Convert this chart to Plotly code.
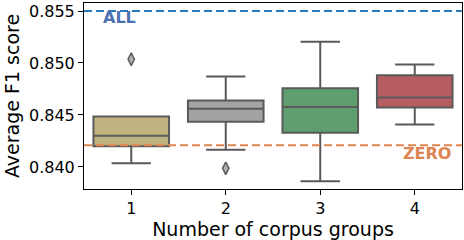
import plotly.graph_objects as go

groups = [1, 2, 3, 4]
q1 = [0.84198, 0.84435, 0.84329, 0.84572]
median = [0.84300, 0.84560, 0.84576, 0.84668]
q3 = [0.84486, 0.84639, 0.84758, 0.84883]
lower_whisker = [0.84035, 0.84166, 0.83862, 0.84409]
upper_whisker = [0.84486, 0.84870, 0.85205, 0.84985]
box_colors = ["#c1b37f", "#a3a3a3", "#5f9e6e", "#b55d60"]
outlier_x = [1, 2]
outlier_y = [0.85036, 0.83987]
all_value = 0.855
zero_value = 0.8421
y_ticks = [0.840, 0.845, 0.850, 0.855]

line_col = "#5a5a5a"
font = "DejaVu Sans"

fig = go.Figure()
for g, a, m, b, lo, hi, c in zip(groups, q1, median, q3, lower_whisker, upper_whisker, box_colors):
    fig.add_trace(go.Box(
        x=[g], q1=[a], median=[m], q3=[b], lowerfence=[lo], upperfence=[hi],
        fillcolor=c, line=dict(color=line_col, width=2), width=0.8,
        whiskerwidth=0.52, boxpoints=False, showlegend=False, hoverinfo="skip",
    ))

fig.add_trace(go.Scatter(
    x=outlier_x, y=outlier_y, mode="markers", showlegend=False,
    marker=dict(symbol="diamond-tall", size=9, color="#b0b0b0",
                line=dict(color=line_col, width=1.5)),
))

fig.add_shape(type="line", xref="paper", yref="y", x0=0, x1=1, y0=all_value, y1=all_value,
              line=dict(color="#2a7ab9", width=2, dash="8px,4px"), layer="above")
fig.add_shape(type="line", xref="paper", yref="y", x0=0, x1=1, y0=zero_value, y1=zero_value,
              line=dict(color="#e0854f", width=2, dash="8px,4px"), layer="above")

fig.add_annotation(x=0.88, y=0.85433, text="<b>ALL</b>", showarrow=False,
                   font=dict(family=font, size=16, color="#4c72b0"))
fig.add_annotation(x=4.133, y=0.84128, text="<b>ZERO</b>", showarrow=False,
                   font=dict(family=font, size=16, color="#dd8452"))

fig.update_layout(
    width=464, height=240,
    margin=dict(l=84, r=2, t=3, b=51),
    plot_bgcolor="white", paper_bgcolor="white",
    font=dict(family=font, size=16, color="black"),
    boxmode="overlay",
    xaxis=dict(range=[0.5, 4.5], tickvals=groups, ticktext=[str(g) for g in groups],
               showgrid=False, zeroline=False, showline=True, linecolor="black", linewidth=1,
               mirror=True, ticks="outside", ticklen=5, tickcolor="black", automargin=False,
               title=dict(text="Number of corpus groups", standoff=4)),
    yaxis=dict(range=[0.83788, 0.85577], tickvals=y_ticks, tickformat=".3f",
               showgrid=False, zeroline=False, showline=True, linecolor="black", linewidth=1,
               mirror=True, ticks="outside", ticklen=5, tickcolor="black", automargin=False,
               title=dict(text="Average F1 score", standoff=4)),
)

fig.write_html("out.html", config={"displayModeBar": False},
               post_script="document.body.style.margin='0px';")
